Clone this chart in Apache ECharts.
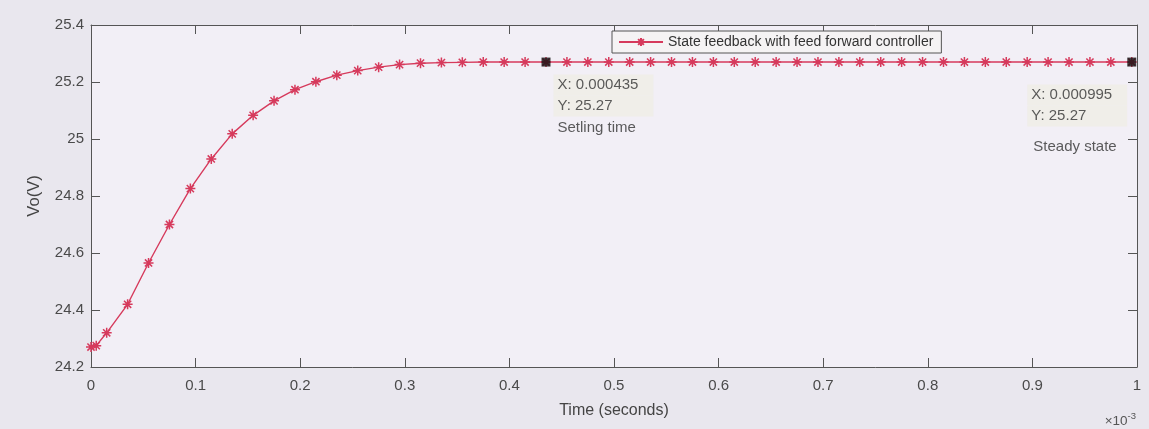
<!DOCTYPE html>
<html>
<head>
<meta charset="utf-8">
<script src="https://cdn.jsdelivr.net/npm/echarts@6/dist/echarts.min.js"></script>
<style>
  html, body { margin: 0; padding: 0; background: #e9e7ee; }
  #chart { width: 1149px; height: 429px; }
</style>
</head>
<body>
<div id="chart"></div>
<script>
// ---- data (time in ms, i.e. x10^-3 s) ----
const timeMs = [0, 0.005, 0.015, 0.035, 0.055, 0.075, 0.095, 0.115, 0.135, 0.155,
  0.175, 0.195, 0.215, 0.235, 0.255, 0.275, 0.295, 0.315, 0.335, 0.355,
  0.375, 0.395, 0.415, 0.435, 0.455, 0.475, 0.495, 0.515, 0.535, 0.555,
  0.575, 0.595, 0.615, 0.635, 0.655, 0.675, 0.695, 0.715, 0.735, 0.755,
  0.775, 0.795, 0.815, 0.835, 0.855, 0.875, 0.895, 0.915, 0.935, 0.955,
  0.975, 0.995];
const voltage = [24.27, 24.275, 24.32, 24.42, 24.565, 24.70, 24.826, 24.93, 25.018, 25.083,
  25.134, 25.173, 25.201, 25.224, 25.240, 25.252, 25.261, 25.266, 25.268, 25.269,
  25.27, 25.27, 25.27, 25.27, 25.27, 25.27, 25.27, 25.27, 25.27, 25.27,
  25.27, 25.27, 25.27, 25.27, 25.27, 25.27, 25.27, 25.27, 25.27, 25.27,
  25.27, 25.27, 25.27, 25.27, 25.27, 25.27, 25.27, 25.27, 25.27, 25.27,
  25.27, 25.27];
const seriesName = 'State feedback with feed forward controller';
const tipTimes = [0.435, 0.995];
const tipValues = [25.27, 25.27];
const tipXText = ['X: 0.000435', 'X: 0.000995'];
const tipYText = ['Y: 25.27', 'Y: 25.27'];
const tipNotes = ['Setling time', 'Steady state'];

const FONT = '"Liberation Sans", Arial, sans-serif';
const AX = '#555555';
const asterisk = 'path://M0,-5L0,5M-5,0L5,0M-3.6,-3.6L3.6,3.6M-3.6,3.6L3.6,-3.6';

const fmtX = v => String(Math.round(v * 10) / 10);
const fmtY = v => String(Number(v.toFixed(1)));

const tipLabelPos = [[12, 17], [-100, 27]];
const tipNotePad = [[1, 4, 0, 4], [20, 4, 0, 6]];
const tipData = tipTimes.map((t, i) => ({
  value: [t, tipValues[i]],
  label: {
    show: true,
    position: tipLabelPos[i],
    formatter: '{b|' + tipXText[i] + '}\n{b|' + tipYText[i] + '}\n{n|' + tipNotes[i] + '}',
    rich: {
      b: { fontFamily: FONT, fontSize: 15, color: '#333', lineHeight: 21, height: 21,
           backgroundColor: '#efede6', width: 92, padding: [0, 4, 0, 4] },
      n: { fontFamily: FONT, fontSize: 15, color: '#333', lineHeight: 21,
           padding: tipNotePad[i] }
    }
  }
}));

const chart = echarts.init(document.getElementById('chart'), null, { renderer: 'canvas' });
function axisCommon() {
  return {
    axisLine: { show: true, onZero: false, lineStyle: { color: AX, width: 1 } },
    axisTick: { show: true, inside: true, length: 9, lineStyle: { color: AX, width: 1 } },
    splitLine: { show: false }
  };
}
chart.setOption({
  backgroundColor: '#e9e7ee',
  animation: false,
  grid: { left: 91, right: 12, top: 25, bottom: 62, show: true,
          backgroundColor: '#f2eff6', borderWidth: 0 },
  legend: {
    data: [seriesName],
    left: 612, top: 31,
    padding: [4, 8, 4, 6],
    itemWidth: 44, itemHeight: 10, itemGap: 5,
    backgroundColor: '#f5f3f4',
    borderColor: '#555', borderWidth: 1, borderRadius: 0,
    textStyle: { fontFamily: FONT, fontSize: 14, color: '#333' }
  },
  xAxis: [
    Object.assign({
      type: 'value', min: 0, max: 1, interval: 0.1, position: 'bottom',
      name: 'Time (seconds)', nameLocation: 'middle', nameGap: 36,
      nameTextStyle: { fontFamily: FONT, fontSize: 16, color: '#444' },
      axisLabel: { fontFamily: FONT, fontSize: 15, color: '#4a4a4a', margin: 11,
                   formatter: fmtX }
    }, axisCommon()),
    Object.assign({
      type: 'value', min: 0, max: 1, interval: 0.1, position: 'top',
      axisLabel: { show: false }
    }, axisCommon())
  ],
  yAxis: [
    Object.assign({
      type: 'value', min: 24.2, max: 25.4, interval: 0.2, position: 'left',
      name: 'Vo(V)', nameLocation: 'middle', nameGap: 48, nameRotate: 90,
      nameTextStyle: { fontFamily: FONT, fontSize: 16.5, color: '#444' },
      axisLabel: { fontFamily: FONT, fontSize: 15, color: '#4a4a4a', margin: 7,
                   formatter: fmtY }
    }, axisCommon()),
    Object.assign({
      type: 'value', min: 24.2, max: 25.4, interval: 0.2, position: 'right',
      axisLabel: { show: false }
    }, axisCommon())
  ],
  series: [
    {
      name: seriesName,
      type: 'line',
      data: timeMs.map((t, i) => [t, voltage[i]]),
      showAllSymbol: true,
      symbol: asterisk,
      symbolSize: 10,
      lineStyle: { color: '#d63a5c', width: 1.4 },
      itemStyle: { color: 'none', borderColor: '#d63a5c', borderWidth: 1.5 },
      z: 3
    },
    {
      name: 'tips',
      type: 'scatter',
      data: tipData,
      symbol: 'rect',
      symbolSize: 9,
      itemStyle: { color: '#111' },
      z: 5
    }
  ],
  graphic: [
    {
      type: 'text', right: 13, bottom: 1,
      style: {
        text: '{a|×10}{s|-3}',
        rich: {
          a: { fontFamily: FONT, fontSize: 13.5, fill: '#555' },
          s: { fontFamily: FONT, fontSize: 9.5, fill: '#555', verticalAlign: 'top', padding: [0, 0, 9, 0] }
        }
      }
    }
  ]
});
</script>
</body>
</html>
